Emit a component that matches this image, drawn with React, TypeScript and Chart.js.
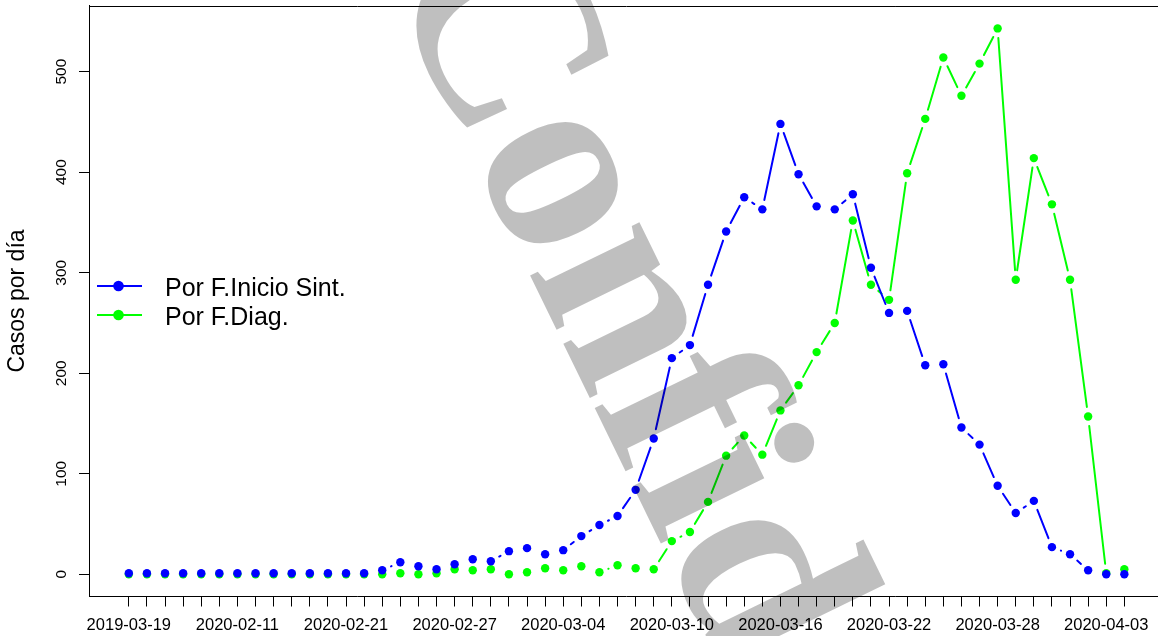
import React, { useEffect, useRef } from "react";
import { Chart, registerables } from "chart.js";

Chart.register(...registerables);

// ---------- data ----------
const dates = [
  "2019-03-19", "2020-01-31", "2020-02-03", "2020-02-05", "2020-02-07", "2020-02-09",
  "2020-02-11", "2020-02-13", "2020-02-15", "2020-02-17", "2020-02-18", "2020-02-20",
  "2020-02-21", "2020-02-22", "2020-02-23", "2020-02-24", "2020-02-25", "2020-02-26",
  "2020-02-27", "2020-02-28", "2020-02-29", "2020-03-01", "2020-03-02", "2020-03-03",
  "2020-03-04", "2020-03-05", "2020-03-06", "2020-03-07", "2020-03-08", "2020-03-09",
  "2020-03-10", "2020-03-11", "2020-03-12", "2020-03-13", "2020-03-14", "2020-03-15",
  "2020-03-16", "2020-03-17", "2020-03-18", "2020-03-19", "2020-03-20", "2020-03-21",
  "2020-03-22", "2020-03-23", "2020-03-24", "2020-03-25", "2020-03-26", "2020-03-27",
  "2020-03-28", "2020-03-29", "2020-03-30", "2020-03-31", "2020-04-01", "2020-04-02",
  "2020-04-03", "2020-04-04",
];

const porInicioSint = [
  1, 1, 1, 1, 1, 1, 1, 1, 1, 1, 1, 1, 1, 1,
  4, 12, 8, 5, 10, 15, 13, 23, 26, 20,
  24, 38, 49, 58, 84, 135, 215, 228, 288, 341,
  375, 363, 448, 398, 366, 363, 378, 305, 260, 262,
  208, 209, 146, 129, 88, 61, 73, 27, 20, 4,
  0, 0,
];

const porFDiag = [
  0, 0, 0, 0, 0, 0, 0, 0, 0, 0, 0, 0, 0, 0,
  0, 1, 0, 1, 5, 4, 5, 0, 2, 6,
  4, 8, 2, 9, 6, 5, 33, 42, 72, 118,
  138, 119, 163, 188, 221, 250, 352, 288, 273, 399,
  453, 514, 476, 508, 543, 293, 414, 368, 293, 157,
  1, 5,
];

const yTicks = [0, 100, 200, 300, 400, 500];
const labelEvery = 6;
const seriesNames = ["Por F.Inicio Sint.", "Por F.Diag."];
const seriesColors = ["#0000FF", "#00FF00"];
const yTitle = "Casos por día";
const watermarkText = "Confidencial";

// ---------- styling constants ----------
const SANS = "'Liberation Sans', Arial, sans-serif";
const GAP = 9.6; // R type="b" gap around points

const segLen = (c: any) => Math.hypot(c.p1.x - c.p0.x, c.p1.y - c.p0.y);

function makeDataset(label: string, values: number[], color: string) {
  return {
    label,
    data: values.map((v, i) => ({ x: i, y: v })),
    borderColor: color,
    backgroundColor: color,
    borderWidth: 2,
    borderCapStyle: "round" as const,
    pointRadius: 4.2,
    pointBorderWidth: 0,
    pointBackgroundColor: color,
    pointHoverRadius: 4.2,
    tension: 0,
    segment: {
      borderColor: (c: any) => (segLen(c) > 2 * GAP ? color : "rgba(0,0,0,0)"),
      borderDash: (c: any) => [Math.max(segLen(c) - 2 * GAP, 0.001), 100000],
      borderDashOffset: (c: any) => -GAP - c.p0DataIndex * 1e-6,
    },
  };
}

const decorPlugin = {
  id: "decor",
  afterDraw(chart: any) {
    const { ctx, chartArea } = chart;
    ctx.save();
    // top border of the box
    ctx.strokeStyle = "#000";
    ctx.lineWidth = 1;
    ctx.beginPath();
    ctx.moveTo(chartArea.left, Math.round(chartArea.top) + 0.5);
    ctx.lineTo(chartArea.right, Math.round(chartArea.top) + 0.5);
    ctx.stroke();

    // legend (no box)
    seriesNames.forEach((name, k) => {
      const yc = 286 + k * 29;
      ctx.strokeStyle = seriesColors[k];
      ctx.lineWidth = 2;
      ctx.beginPath();
      ctx.moveTo(97, yc);
      ctx.lineTo(142, yc);
      ctx.stroke();
      ctx.fillStyle = seriesColors[k];
      ctx.beginPath();
      ctx.arc(118.5, yc, 5.3, 0, Math.PI * 2);
      ctx.fill();
      ctx.fillStyle = "#000";
      ctx.font = `25px ${SANS}`;
      ctx.textAlign = "left";
      ctx.textBaseline = "alphabetic";
      ctx.fillText(name, 165, yc + 10);
    });

    // watermark
    ctx.font = `bold 265px 'Liberation Serif', 'Times New Roman', serif`;
    ctx.fillStyle = "rgba(0,0,0,0.25)";
    ctx.translate(385, -22);
    ctx.rotate((64 * Math.PI) / 180);
    ctx.textAlign = "left";
    ctx.textBaseline = "alphabetic";
    ctx.fillText(watermarkText, 0, 0);
    ctx.restore();
  },
};

export default function App() {
  const canvasRef = useRef<HTMLCanvasElement | null>(null);

  useEffect(() => {
    const canvas = canvasRef.current;
    if (!canvas) return;
    const chart = new Chart(canvas, {
      type: "line",
      data: {
        datasets: [
          makeDataset(seriesNames[0], porInicioSint, seriesColors[0]),
          makeDataset(seriesNames[1], porFDiag, seriesColors[1]),
        ],
      },
      options: {
        animation: false,
        responsive: false,
        devicePixelRatio: 1,
        events: [],
        layout: { padding: { top: 5.5, left: 0, right: 0, bottom: 0 } },
        plugins: {
          legend: { display: false },
          tooltip: { enabled: false },
        },
        scales: {
          x: {
            type: "linear",
            min: -2.2,
            max: 57.18,
            bounds: "data",
            afterBuildTicks: (s: any) => {
              s.ticks = dates.map((_, i) => ({ value: i }));
            },
            afterFit: (s: any) => {
              s.height = 39.5;
              s.paddingLeft = 0;
              s.paddingRight = 0;
            },
            grid: {
              drawOnChartArea: false,
              drawTicks: true,
              tickLength: 10,
              tickColor: "#000",
              tickWidth: 1,
            },
            border: { display: true, color: "#000", width: 1 },
            ticks: {
              autoSkip: false,
              minRotation: 0,
              maxRotation: 0,
              padding: 9,
              color: "#000",
              font: { family: SANS, size: 16.5 },
              callback: (v: any) => {
                const i = Math.round(Number(v));
                return i % labelEvery === 0 ? dates[i] : "";
              },
            },
          },
          y: {
            type: "linear",
            min: -22.1,
            max: 565.8,
            bounds: "data",
            afterBuildTicks: (s: any) => {
              s.ticks = yTicks.map((v) => ({ value: v }));
            },
            afterFit: (s: any) => {
              s.width = 89;
              s.paddingTop = 0;
              s.paddingBottom = 0;
            },
            grid: {
              drawOnChartArea: false,
              drawTicks: true,
              tickLength: 10,
              tickColor: "#000",
              tickWidth: 1,
            },
            border: { display: true, color: "#000", width: 1 },
            ticks: {
              minRotation: 90,
              maxRotation: 90,
              crossAlign: "center",
              padding: 4.5,
              color: "#000",
              font: { family: SANS, size: 15.5 },
              callback: (v: any) => String(v),
            },
            title: {
              display: true,
              text: yTitle,
              color: "#000",
              font: { family: SANS, size: 23 },
              padding: { top: 3.5, bottom: 0 },
            },
          },
        },
      } as any,
      plugins: [decorPlugin],
    });
    return () => chart.destroy();
  }, []);

  return (
    <div
      style={{
        position: "fixed",
        left: 0,
        top: 0,
        width: 1158,
        height: 636,
        overflow: "hidden",
        background: "#fff",
      }}
    >
      <canvas ref={canvasRef} width={1168} height={636} style={{ display: "block" }} />
    </div>
  );
}
